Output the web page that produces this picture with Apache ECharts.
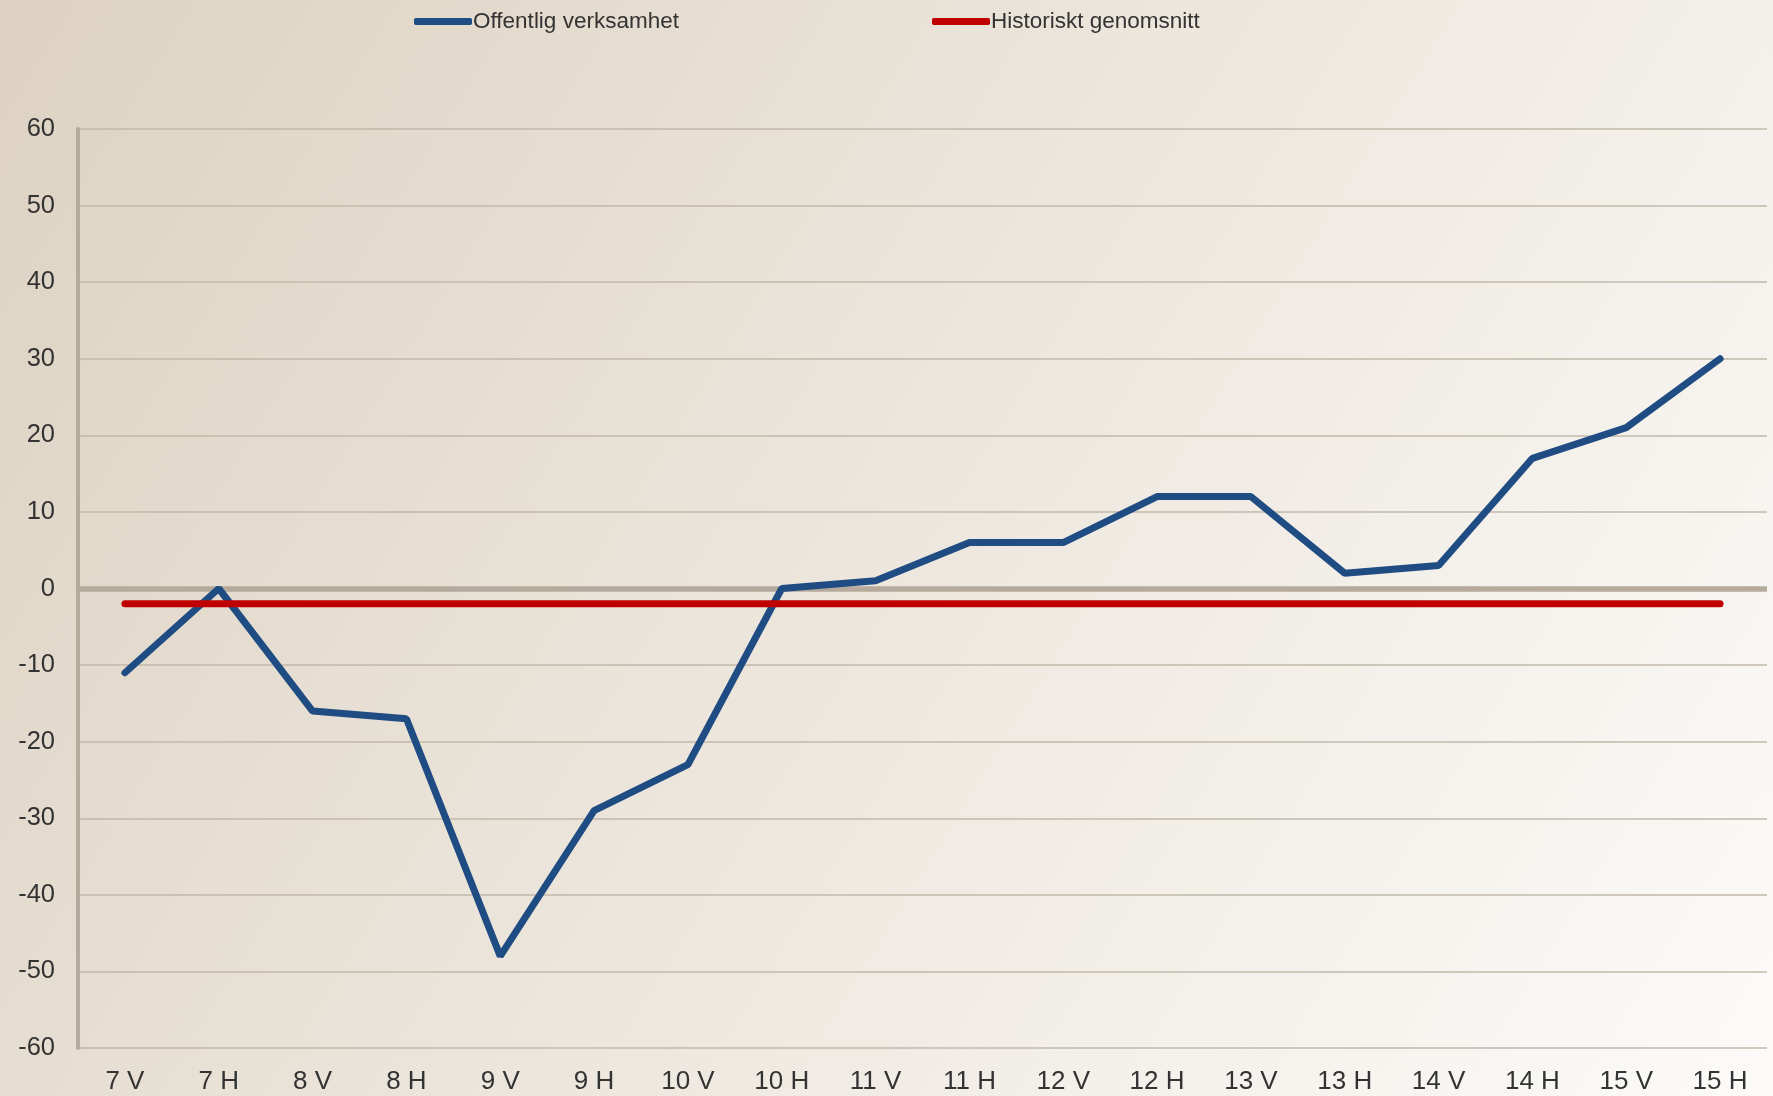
<!DOCTYPE html>
<html>
<head>
<meta charset="utf-8">
<script src="https://cdn.jsdelivr.net/npm/echarts@6/dist/echarts.min.js"></script>
<style>
  html, body { margin: 0; padding: 0; }
  #chart { width: 1773px; height: 1096px; }
</style>
</head>
<body>
<div id="chart"></div>
<script>
// halvår: V = vår, H = höst
const categories = ['7 V', '7 H', '8 V', '8 H', '9 V', '9 H', '10 V', '10 H', '11 V',
  '11 H', '12 V', '12 H', '13 V', '13 H', '14 V', '14 H', '15 V', '15 H'];
const offentligVerksamhet = [-11, 0, -16, -17, -48, -29, -23, 0, 1, 6, 6, 12, 12, 2, 3, 17, 21, 30];
const historisktSnitt = [-2, -2, -2, -2, -2, -2, -2, -2, -2, -2, -2, -2, -2, -2, -2, -2, -2, -2];
const yMin = -60, yMax = 60, yStep = 10;

const FONT = '"Liberation Sans", Arial, sans-serif';
const TEXT = '#333333';
const GRID = '#c2b8aa';

var chart = echarts.init(document.getElementById('chart'));
var option = {
  backgroundColor: new echarts.graphic.LinearGradient(0, 0, 1, 1, [
    { offset: 0, color: '#ddd2c2' },
    { offset: 1, color: '#fcfbf9' }
  ]),
  legend: [
    {
      data: ['Offentlig verksamhet'],
      left: 409, top: 5,
      icon: 'roundRect', itemWidth: 58, itemHeight: 7, itemGap: 4,
      textStyle: { fontFamily: FONT, fontSize: 22.5, color: TEXT, padding: [0, 0, 0, -4] }
    },
    {
      data: ['Historiskt genomsnitt'],
      left: 927, top: 5,
      icon: 'roundRect', itemWidth: 58, itemHeight: 7, itemGap: 4,
      textStyle: { fontFamily: FONT, fontSize: 22.5, color: TEXT, padding: [0, 0, 0, -4] }
    }
  ],
  grid: { left: 78, right: 6, top: 129, bottom: 48 },
  xAxis: {
    type: 'category',
    data: categories,
    boundaryGap: true,
    axisLine: { show: false },
    axisTick: { show: false },
    axisLabel: { fontFamily: FONT, fontSize: 26, color: TEXT, margin: 21 }
  },
  yAxis: {
    type: 'value',
    min: yMin, max: yMax, interval: yStep,
    axisLine: { show: true, lineStyle: { color: '#b5ab9c', width: 4 } },
    axisTick: { show: false },
    axisLabel: { fontFamily: FONT, fontSize: 25.5, color: TEXT, margin: 23, padding: [4, 0, 0, 0] },
    splitLine: { show: true, lineStyle: { color: GRID, width: 1.5 } }
  },
  series: [
    {
      name: 'Offentlig verksamhet',
      type: 'line',
      data: offentligVerksamhet,
      symbol: 'none',
      color: '#1f4c82',
      lineStyle: { width: 7, color: '#1f4c82', cap: 'round' },
      markLine: {
        silent: true,
        symbol: 'none',
        label: { show: false },
        lineStyle: { type: 'solid', color: '#b5aa9b', width: 5.5 },
        data: [{ yAxis: 0 }],
        z: 1
      },
      z: 3
    },
    {
      name: 'Historiskt genomsnitt',
      type: 'line',
      data: historisktSnitt,
      symbol: 'none',
      color: '#c00000',
      lineStyle: { width: 7, color: '#c00000', cap: 'round' },
      z: 4
    }
  ]
};
chart.setOption(option);
</script>
</body>
</html>
